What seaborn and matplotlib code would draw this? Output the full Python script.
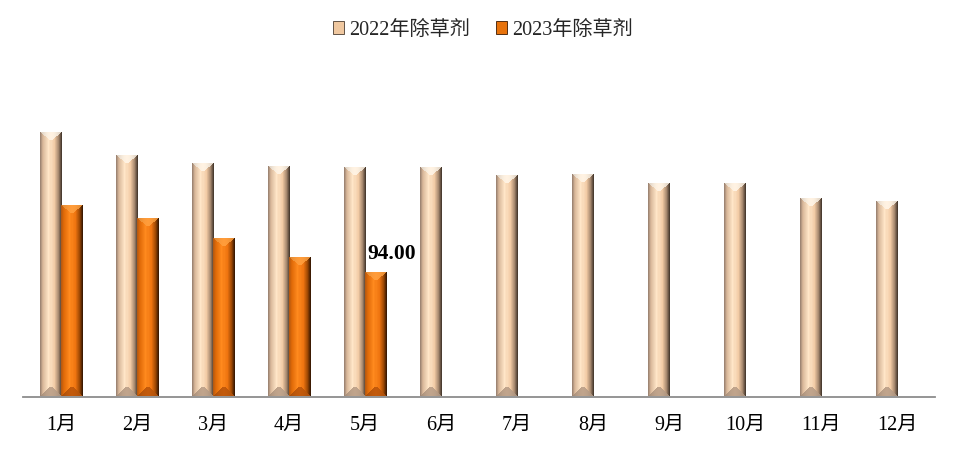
"""
2022 vs 2023 herbicide monthly bars with bevel-style shading
"""

import numpy as np
import pandas as pd
import matplotlib
matplotlib.use('Agg')
import matplotlib.pyplot as plt
from matplotlib.colors import to_rgb
from matplotlib.patches import Patch
import seaborn as sns

# Data
months = ['1月', '2月', '3月', '4月', '5月', '6月', '7月', '8月', '9月', '10月', '11月', '12月']
herb_2022 = [201.0, 183.5, 177.4, 174.9, 174.1, 174.1, 168.2, 169.0, 162.1, 162.1, 150.5, 148.2]
herb_2023 = [145.4, 135.4, 120.2, 105.7, 94.0]
series_names = ['2022年除草剂', '2023年除草剂']

# Shading stops per series: (positions across the bar, colours), top face, bottom face
SHADE = {
    series_names[0]: dict(pos=[0.0, 0.12, 0.4, 0.65, 0.85, 1.0],
                          cols=['#9E8573', '#D9B89A', '#FFE6C8', '#F2CBA5', '#A88A70', '#4A3C30'],
                          top='#FFF2E2', bot='#C0A48C', base='#F0C8A0'),
    series_names[1]: dict(pos=[0.0, 0.12, 0.4, 0.65, 0.85, 1.0],
                          cols=['#B85A10', '#E06A08', '#FF8A1E', '#EE7410', '#A04A05', '#3C1A02'],
                          top='#FF9C3A', bot='#C25A0C', base='#E8730C'),
}

df = pd.DataFrame({
    'month': months * 2,
    'series': [series_names[0]] * len(months) + [series_names[1]] * len(months),
    'value': herb_2022 + herb_2023 + [np.nan] * (len(months) - len(herb_2023)),
}).dropna()

sns.set_style('white')
plt.rcParams['font.family'] = ['Liberation Serif', 'Noto Sans CJK SC', 'DejaVu Sans']

W, H = 958, 449
fig = plt.figure(figsize=(W / 100, H / 100), dpi=100)
ax = fig.add_axes([23 / W, 1 - 396.5 / H, 912 / W, (396.5 - 90) / H])

palette = {k: v['base'] for k, v in SHADE.items()}
sns.barplot(data=df, x='month', y='value', hue='series', order=months,
            hue_order=series_names, palette=palette, width=0.553,
            dodge=True, legend=False, ax=ax, linewidth=0, errorbar=None)

ax.set_xlim(-0.5, 11.5)
ax.set_ylim(0, 233.9)
ax.set_xlabel('')
ax.set_ylabel('')
ax.set_yticks([])
for s in ['left', 'right', 'top']:
    ax.spines[s].set_visible(False)
ax.spines['bottom'].set_color('#8C8C8C')
ax.spines['bottom'].set_linewidth(1.3)
ax.tick_params(axis='x', length=0, pad=14, labelsize=14.5, labelcolor='black')


def bevel_image(w, h, spec):
    """Build an RGB array (h rows x w cols) that mimics a bevelled bar."""
    xs = np.linspace(0, 1, w)
    cols = np.array([to_rgb(c) for c in spec['cols']])
    body = np.stack([np.interp(xs, spec['pos'], cols[:, i]) for i in range(3)], axis=-1)
    img = np.repeat(body[None, :, :], h, axis=0)
    c = np.arange(w)
    side = np.minimum(c, w - 1 - c).astype(float)
    r = np.arange(h)[:, None]
    top = r < side[None, :] * 0.8
    bot = (h - 1 - r) < side[None, :] * 0.9
    top_rgb = np.array(to_rgb(spec['top']))
    bot_rgb = np.array(to_rgb(spec['bot']))
    shade_top = 0.75 + 0.25 * np.cos(np.linspace(-1.2, 1.2, w))
    img[top] = (top_rgb[None, :] * np.broadcast_to(shade_top, (h, w))[top][:, None]).clip(0, 1)
    img[bot] = (bot_rgb[None, :] * np.broadcast_to(shade_top, (h, w))[bot][:, None]).clip(0, 1)
    return img


# Replace flat bars with bevel-shaded images
fig.canvas.draw()
px_per_x = ax.transData.transform((1, 0))[0] - ax.transData.transform((0, 0))[0]
px_per_y = ax.transData.transform((0, 1))[1] - ax.transData.transform((0, 0))[1]
base_lookup = {to_rgb(v['base']): k for k, v in SHADE.items()}
for bar in list(ax.patches):
    h = bar.get_height()
    if not np.isfinite(h) or h <= 0:
        continue
    fc = np.array(bar.get_facecolor()[:3])
    key = min(base_lookup, key=lambda k: np.sum((np.array(k) - fc) ** 2))
    name = base_lookup[key]
    x0, w = bar.get_x(), bar.get_width()
    wp = max(int(round(w * px_per_x)), 4)
    hp = max(int(round(h * px_per_y)), 4)
    img = bevel_image(wp, hp, SHADE[name])
    ax.imshow(img, extent=(x0, x0 + w, 0, h), aspect='auto', origin='upper',
              interpolation='nearest', zorder=3)
    bar.set_visible(False)

ax.set_xlim(-0.5, 11.5)
ax.set_ylim(0, 233.9)

# Value label on the last 2023 bar
last_idx = len(herb_2023) - 1
bar_center = last_idx + 0.553 / 4
ax.annotate(f'{herb_2023[-1]:.2f}', xy=(bar_center, herb_2023[-1]),
            xytext=(12, 7), textcoords='offset points', ha='center', va='bottom',
            fontsize=15.5, fontweight='bold', color='black', zorder=5)

# Legend
handles = [Patch(facecolor=SHADE[n]['base'], edgecolor=SHADE[n]['cols'][-1], linewidth=0.6)
           for n in series_names]
fig.legend(handles, series_names, loc='center', bbox_to_anchor=(0.504, 0.933), ncol=2,
           frameon=False, fontsize=14.5, handlelength=0.55, handleheight=0.55,
           handletextpad=0.25, columnspacing=1.3)

plt.savefig('out.png', dpi=100)
plt.close()
